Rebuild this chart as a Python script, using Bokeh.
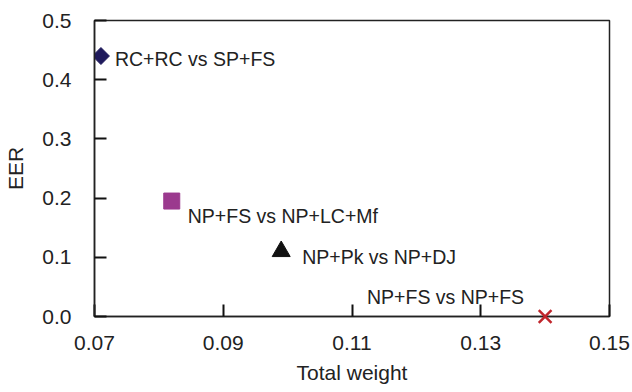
import math
from bokeh.plotting import figure
from bokeh.embed import file_html
from bokeh.resources import INLINE
from bokeh.models import ColumnDataSource, FixedTicker, Range1d
from bokeh.core.properties import value

labels = ["RC+RC vs SP+FS", "NP+FS vs NP+LC+Mf", "NP+Pk vs NP+DJ", "NP+FS vs NP+FS"]
total_weight = [0.071, 0.082, 0.099, 0.140]
eer = [0.44, 0.195, 0.11, 0.0]
x_ticks = [0.07, 0.09, 0.11, 0.13, 0.15]
y_ticks = [0.0, 0.1, 0.2, 0.3, 0.4, 0.5]

FONT = "Liberation Sans"
INK = "#222222"

p = figure(width=632, height=392, output_backend="svg", toolbar_location=None,
           x_range=Range1d(x_ticks[0], x_ticks[-1]), y_range=Range1d(y_ticks[0], y_ticks[-1]),
           min_border_left=94, min_border_right=23, min_border_top=20, min_border_bottom=76)
p.frame_width = 515
p.frame_height = 296
p.background_fill_color = "white"
p.border_fill_color = "white"
p.outline_line_color = INK
p.outline_line_width = 1.5
p.xgrid.visible = False
p.ygrid.visible = False

p.xaxis.ticker = FixedTicker(ticks=x_ticks)
p.yaxis.ticker = FixedTicker(ticks=y_ticks)
p.xaxis.major_label_overrides = {t: f"{t:.2f}" for t in x_ticks}
p.yaxis.major_label_overrides = {t: f"{t:.1f}" for t in y_ticks}
for ax in (p.xaxis, p.yaxis):
    ax.major_tick_in = 12
    ax.major_tick_out = 0
    ax.major_tick_line_color = "#111111"
    ax.major_tick_line_width = 2
    ax.minor_tick_in = 0
    ax.minor_tick_out = 0
    ax.axis_line_color = INK
    ax.axis_line_width = 1.5
    ax.major_label_text_font = FONT
    ax.major_label_text_font_size = "21px"
    ax.major_label_text_color = INK
    ax.axis_label_text_font = FONT
    ax.axis_label_text_font_size = "21px"
    ax.axis_label_text_font_style = "normal"
    ax.axis_label_text_color = INK
p.xaxis.axis_label = "Total weight"
p.yaxis.axis_label = "EER"
p.xaxis.major_label_standoff = 19
p.yaxis.major_label_standoff = 23
p.xaxis.axis_label_standoff = 8
p.yaxis.axis_label_standoff = 12

p.scatter([total_weight[0]], [eer[0]], marker="square", angle=math.pi / 4, size=12,
          fill_color="#1f1a5c", line_color="#1f1a5c")
p.scatter([total_weight[1]], [eer[1]], marker="square", size=16, fill_color="#9b3a8e", line_color="#9b3a8e")
p.scatter([total_weight[2]], [eer[2]], marker="triangle", size=18, fill_color="#111111", line_color="#111111")
p.scatter([total_weight[3]], [eer[3]], marker="x", size=18, line_color="#c0262c", line_width=2.5,
          level="overlay")

offs_x = [14, 16, 21, -21]
offs_y = [3, 15, 6, -20]
aligns = ["left", "left", "left", "right"]
src = ColumnDataSource(dict(x=total_weight, y=eer, t=labels, xo=offs_x, yo=offs_y, al=aligns))
p.text(x="x", y="y", text="t", source=src, x_offset="xo", y_offset="yo", text_align="al",
       text_baseline="middle", text_font=value(FONT), text_font_size="19.5px", text_color=INK)

open("out.html", "w").write(file_html(p, INLINE))
